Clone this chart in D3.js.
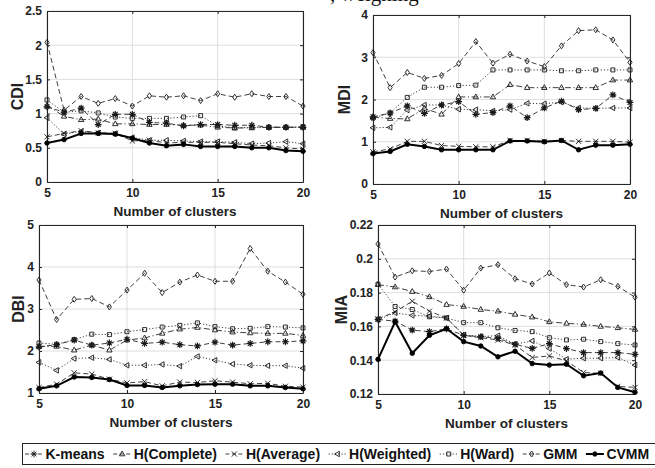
<!DOCTYPE html>
<html>
<head>
<meta charset="utf-8">
<script src="https://cdn.jsdelivr.net/npm/d3@7"></script>
<style>
  body { margin: 0; background: #fff; }
  text { font-family: "Liberation Sans", Arial, sans-serif; }
</style>
</head>
<body>
<div id="chart"></div>
<script>
// data
var methods = ["K-means", "H(Complete)", "H(Average)", "H(Weighted)", "H(Ward)", "GMM", "CVMM"];
var clusters = [5, 6, 7, 8, 9, 10, 11, 12, 13, 14, 15, 16, 17, 18, 19, 20];

var xTicks = [5, 10, 15, 20];
var cdiTicks = [0, 0.5, 1, 1.5, 2, 2.5];
var mdiTicks = [0, 1, 2, 3, 4];
var dbiTicks = [1, 2, 3, 4, 5];
var miaTicks = [0.12, 0.14, 0.16, 0.18, 0.2, 0.22];

// one row per method, same order as `methods`
var cdiValues = [
  [1.10, 1.02, 1.08, 0.84, 0.99, 0.99, 0.87, 0.86, 0.82, 0.84, 0.84, 0.83, 0.83, 0.80, 0.80, 0.80],
  [1.12, 0.96, 0.91, 0.92, 0.85, 0.85, 0.84, 0.84, 0.83, 0.83, 0.80, 0.79, 0.79, 0.80, 0.80, 0.80],
  [0.66, 0.71, 0.75, 0.72, 0.71, 0.60, 0.61, 0.57, 0.58, 0.58, 0.58, 0.56, 0.54, 0.53, 0.50, 0.48],
  [0.94, 0.70, 0.74, 0.72, 0.71, 0.65, 0.61, 0.61, 0.60, 0.59, 0.59, 0.58, 0.56, 0.57, 0.59, 0.56],
  [1.20, 1.02, 1.04, 1.01, 0.95, 0.93, 0.93, 0.93, 0.95, 0.97, 0.82, 0.79, 0.80, 0.80, 0.80, 0.81],
  [2.04, 1.05, 1.25, 1.15, 1.22, 1.11, 1.26, 1.24, 1.26, 1.19, 1.29, 1.24, 1.29, 1.25, 1.25, 1.11],
  [0.57, 0.62, 0.71, 0.71, 0.70, 0.64, 0.57, 0.53, 0.55, 0.52, 0.52, 0.52, 0.50, 0.50, 0.46, 0.45]
];
var mdiValues = [
  [1.59, 1.68, 1.85, 1.67, 1.87, 1.95, 1.65, 1.69, 1.85, 1.57, 1.80, 1.96, 1.76, 1.79, 2.11, 1.93],
  [1.58, 1.55, 1.54, 1.79, 1.65, 2.06, 2.06, 2.06, 2.35, 2.28, 2.28, 2.28, 2.28, 2.28, 2.46, 2.46],
  [0.76, 0.83, 1.01, 1.01, 0.91, 0.89, 0.88, 0.88, 1.03, 1.03, 1.01, 1.03, 1.01, 1.01, 1.01, 0.99],
  [1.33, 1.34, 1.75, 1.87, 1.87, 1.77, 1.76, 1.73, 1.76, 1.91, 1.90, 1.94, 1.80, 1.79, 1.80, 1.80],
  [1.56, 1.68, 2.05, 2.29, 2.29, 2.33, 2.34, 2.70, 2.70, 2.70, 2.70, 2.68, 2.68, 2.70, 2.70, 2.70],
  [3.11, 2.28, 2.64, 2.50, 2.57, 2.85, 3.37, 2.86, 3.07, 2.91, 2.78, 3.27, 3.63, 3.65, 3.41, 2.88],
  [0.72, 0.77, 0.94, 0.89, 0.81, 0.81, 0.81, 0.81, 1.02, 1.02, 1.00, 1.03, 0.81, 0.92, 0.92, 0.94]
];
var dbiValues = [
  [2.10, 2.15, 2.26, 2.14, 2.19, 2.28, 2.18, 2.21, 2.15, 2.12, 2.21, 2.14, 2.18, 2.22, 2.22, 2.24],
  [2.11, 2.11, 2.02, 2.14, 2.02, 2.26, 2.31, 2.42, 2.52, 2.56, 2.50, 2.45, 2.43, 2.42, 2.42, 2.37],
  [1.13, 1.21, 1.48, 1.45, 1.33, 1.24, 1.27, 1.17, 1.26, 1.25, 1.29, 1.26, 1.22, 1.23, 1.16, 1.14],
  [1.73, 1.54, 1.82, 1.84, 1.80, 1.66, 1.66, 1.68, 1.64, 1.87, 1.78, 1.69, 1.66, 1.65, 1.65, 1.59],
  [2.19, 2.16, 2.27, 2.40, 2.39, 2.46, 2.51, 2.57, 2.61, 2.67, 2.58, 2.53, 2.54, 2.58, 2.57, 2.55],
  [3.69, 2.75, 3.23, 3.25, 3.05, 3.45, 3.85, 3.39, 3.64, 3.81, 3.66, 3.66, 4.44, 3.90, 3.64, 3.35],
  [1.10, 1.17, 1.38, 1.37, 1.32, 1.18, 1.18, 1.13, 1.17, 1.20, 1.21, 1.21, 1.17, 1.17, 1.13, 1.10]
];
var miaValues = [
  [0.1641, 0.1631, 0.1578, 0.1569, 0.1586, 0.1547, 0.1539, 0.1529, 0.1494, 0.1470, 0.1498, 0.1469, 0.1445, 0.1445, 0.1445, 0.1435],
  [0.1847, 0.1833, 0.1806, 0.1775, 0.1729, 0.1718, 0.1700, 0.1690, 0.1671, 0.1655, 0.1627, 0.1618, 0.1612, 0.1600, 0.1592, 0.1582],
  [0.1645, 0.1686, 0.1749, 0.1690, 0.1650, 0.1547, 0.1533, 0.1520, 0.1490, 0.1416, 0.1425, 0.1396, 0.1327, 0.1322, 0.1245, 0.1239],
  [0.1640, 0.1680, 0.1665, 0.1661, 0.1650, 0.1550, 0.1540, 0.1545, 0.1495, 0.1514, 0.1469, 0.1406, 0.1412, 0.1412, 0.1416, 0.1371],
  [0.1850, 0.1718, 0.1700, 0.1657, 0.1650, 0.1622, 0.1622, 0.1592, 0.1576, 0.1569, 0.1533, 0.1520, 0.1524, 0.1510, 0.1498, 0.1490],
  [0.2088, 0.1892, 0.1929, 0.1925, 0.1939, 0.1814, 0.1945, 0.1965, 0.1882, 0.1851, 0.1916, 0.1847, 0.1833, 0.1876, 0.1837, 0.1773],
  [0.1405, 0.1627, 0.1441, 0.1547, 0.1586, 0.1510, 0.1484, 0.1420, 0.1453, 0.1380, 0.1371, 0.1376, 0.1308, 0.1324, 0.1239, 0.1210]
];

// line style per method (matlab-ish: --, -., --, :, :, --, solid)
var dashes = ["5,3", "6,2.5,1.2,2.5", "5,3", "1.2,2", "1.2,2", "5,3", null];
var markers = ["star", "tri", "cross", "ltri", "square", "diamond", "dot"];

var panels = [
  {values: cdiValues, name: "CDI", domain: [0, 2.5], ticks: cdiTicks, left: 47, top: 11, right: 303, bottom: 182, labelX: 17},
  {values: mdiValues, name: "MDI", domain: [0, 4], ticks: mdiTicks, left: 373, top: 15, right: 630, bottom: 184, labelX: 344},
  {values: dbiValues, name: "DBI", domain: [1, 5], ticks: dbiTicks, left: 39, top: 225, right: 303, bottom: 393, labelX: 18},
  {values: miaValues, name: "MIA", domain: [0.12, 0.22], ticks: miaTicks, left: 378, top: 225, right: 635, bottom: 394, labelX: 341}
];

function markerPath(type) {
  var r;
  if (type == "star") {
    r = 3.4; var a = r * 0.7;
    return "M" + (-r) + ",0H" + r + "M0," + (-r) + "V" + r +
      "M" + (-a) + "," + (-a) + "L" + a + "," + a + "M" + (-a) + "," + a + "L" + a + "," + (-a);
  }
  if (type == "cross") {
    r = 2.6;
    return "M" + (-r) + "," + (-r) + "L" + r + "," + r + "M" + (-r) + "," + r + "L" + r + "," + (-r);
  }
  if (type == "tri") {
    r = 3;
    return "M0," + (-r) + "L" + (r * 0.9) + "," + (r * 0.6) + "L" + (-r * 0.9) + "," + (r * 0.6) + "Z";
  }
  if (type == "ltri") {
    r = 3;
    return "M" + (-r) + ",0L" + (r * 0.6) + "," + (-r * 0.9) + "L" + (r * 0.6) + "," + (r * 0.9) + "Z";
  }
  if (type == "square") {
    r = 2;
    return "M" + (-r) + "," + (-r) + "H" + r + "V" + r + "H" + (-r) + "Z";
  }
  if (type == "diamond") {
    r = 3;
    return "M0," + (-r) + "L" + (r * 0.7) + ",0L0," + r + "L" + (-r * 0.7) + ",0Z";
  }
  return d3.symbol().type(d3.symbolCircle).size(16)();
}

function styleSeries(sel, i) {
  sel.attr("fill", "none")
    .attr("stroke", i == 6 ? "#000" : "#2a2a2a")
    .attr("stroke-width", i == 6 ? 2 : 0.9)
    .attr("stroke-dasharray", dashes[i]);
}

var svg = d3.select("#chart")
  .append("svg")
    .attr("width", 655)
    .attr("height", 468);

svg.append("rect").attr("width", 655).attr("height", 468).attr("fill", "#fff");

// bit of the page text above the figure, cut off at the top
svg.append("text")
  .attr("x", 330)
  .attr("y", 1)
  .style("font-family", "'Liberation Serif', serif")
  .attr("font-size", 21)
  .attr("fill", "#111")
  .text(", weighing");

panels.forEach(function(p) {
  var w = p.right - p.left, h = p.bottom - p.top;
  var g = svg.append("g").attr("transform", "translate(" + p.left + "," + p.top + ")");

  var x = d3.scaleLinear().domain([5, 20]).range([0, w]);
  var y = d3.scaleLinear().domain(p.domain).range([h, 0]);

  // grid
  g.append("g").selectAll("line").data(xTicks).enter().append("line")
    .attr("x1", function(d) { return x(d); }).attr("x2", function(d) { return x(d); })
    .attr("y1", 0).attr("y2", h)
    .attr("stroke", "#dedede");
  g.append("g").selectAll("line").data(p.ticks).enter().append("line")
    .attr("y1", function(d) { return y(d); }).attr("y2", function(d) { return y(d); })
    .attr("x1", 0).attr("x2", w)
    .attr("stroke", "#dedede");

  // axes, ticks pointing inward on every side
  var fmt = function(d) { return String(+d.toFixed(4)); };
  var bottomAx = g.append("g").attr("transform", "translate(0," + h + ")")
    .call(d3.axisBottom(x).tickValues(xTicks).tickSizeInner(-3).tickSizeOuter(0).tickPadding(6).tickFormat(d3.format("d")));
  var leftAx = g.append("g")
    .call(d3.axisLeft(y).tickValues(p.ticks).tickSizeInner(-3).tickSizeOuter(0).tickPadding(5).tickFormat(fmt));
  var topAx = g.append("g")
    .call(d3.axisTop(x).tickValues(xTicks).tickSizeInner(-3).tickSizeOuter(0).tickFormat(""));
  var rightAx = g.append("g").attr("transform", "translate(" + w + ",0)")
    .call(d3.axisRight(y).tickValues(p.ticks).tickSizeInner(-3).tickSizeOuter(0).tickFormat(""));

  [bottomAx, leftAx, topAx, rightAx].forEach(function(ax) {
    ax.select(".domain").attr("stroke", "#262626").attr("stroke-width", 1.1);
    ax.selectAll(".tick line").attr("stroke", "#262626");
    ax.selectAll("text")
      .attr("font-family", null)
      .attr("font-size", 12)
      .attr("font-weight", "bold")
      .attr("fill", "#222");
  });

  // series
  var line = d3.line()
    .x(function(d, j) { return x(clusters[j]); })
    .y(function(d) { return y(d); });

  p.values.forEach(function(vals, i) {
    g.append("path")
      .datum(vals)
      .attr("d", line)
      .call(styleSeries, i);

    g.append("g").selectAll("path")
      .data(vals)
      .enter().append("path")
        .attr("transform", function(d, j) { return "translate(" + x(clusters[j]) + "," + y(d) + ")"; })
        .attr("d", markerPath(markers[i]))
        .attr("fill", i == 6 ? "#000" : "none")
        .attr("stroke", i == 6 ? "#000" : "#1a1a1a")
        .attr("stroke-width", i == 0 ? 1.2 : 0.9);
  });

  // labels
  g.append("text")
    .attr("x", w / 2)
    .attr("y", h + 34)
    .attr("text-anchor", "middle")
    .attr("font-size", 13.5)
    .attr("font-weight", "bold")
    .attr("fill", "#222")
    .text("Number of clusters");

  svg.append("text")
    .attr("transform", "translate(" + p.labelX + "," + (p.top + h / 2) + ") rotate(-90)")
    .attr("text-anchor", "middle")
    .attr("dy", "0.36em")
    .attr("font-size", 16)
    .attr("font-weight", "bold")
    .attr("fill", "#222")
    .text(p.name);
});

// legend along the bottom, its frame runs off the right edge like the original
var legend = svg.append("g");
legend.append("rect")
  .attr("x", 22.5).attr("y", 443.5)
  .attr("width", 650).attr("height", 21)
  .attr("fill", "#fff")
  .attr("stroke", "#222");

var cursor = 24;
methods.forEach(function(m, i) {
  var item = legend.append("g").attr("transform", "translate(" + cursor + ",454)");
  item.append("line")
    .attr("x1", 1).attr("x2", 19)
    .call(styleSeries, i)
    .attr("stroke-dasharray", i == 6 ? null : (i == 3 || i == 4 ? "1.2,2" : "4,2.5"));
  item.append("path")
    .attr("transform", "translate(10,0)")
    .attr("d", markerPath(markers[i]))
    .attr("fill", i == 6 ? "#000" : "none")
    .attr("stroke", "#1a1a1a")
    .attr("stroke-width", 0.9);
  var t = item.append("text")
    .attr("x", 21.5)
    .attr("dy", "0.36em")
    .attr("font-size", 14)
    .attr("font-weight", "bold")
    .attr("fill", "#111")
    .text(m);
  cursor += 21.5 + t.node().getComputedTextLength() + 7.5;
});
</script>
</body>
</html>
